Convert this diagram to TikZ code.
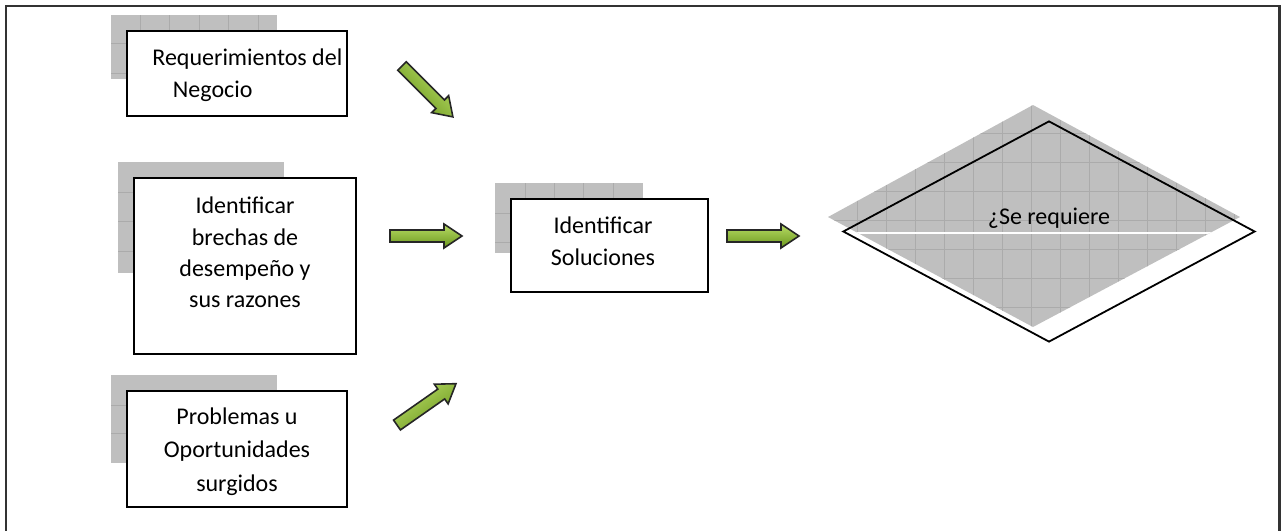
\documentclass[tikz,border=0pt]{standalone}
\usepackage{fontspec}
\setmainfont{Carlito}
\usetikzlibrary{shapes.geometric}
\definecolor{shadowgrey}{HTML}{BFBFBF}
\definecolor{gridgrey}{HTML}{ABABAB}
\definecolor{arrowlight}{HTML}{B8DC66}
\definecolor{arrowdark}{HTML}{6A961C}
\definecolor{framegrey}{HTML}{333333}

\begin{document}
\begin{tikzpicture}[x=0.5pt,y=-0.5pt,
  box/.style={draw=black, line width=0.8pt, fill=white, inner sep=0pt},
  lbl/.style={inner sep=0pt, font=\fontsize{12}{14}\selectfont},
  shadowfill/.style={fill=shadowgrey},
  gridline/.style={draw=gridgrey, line width=0.3pt},
  pics/blockarrow/.style={code={
    \draw[draw=black!85, line width=0.8pt, line join=miter,
          top color=arrowlight, bottom color=arrowdark, shading angle=#1]
      (0,-6) -- (54,-6) -- (54,-12) -- (72,0) -- (54,12) -- (54,6) -- (0,6) -- cycle;}}
]
\useasboundingbox (0,0) rectangle (1282,531);
\clip (0,0) rectangle (1282,531);

% outer frame (open at the bottom edge of the page)
\draw[framegrey, line width=1.2pt] (6,560) -- (6,6) -- (1279.5,6) -- (1279.5,560);

% ---------- textured shadows behind the boxes ----------
\begin{scope}
  \clip (111,15) rectangle (277,79);
  \fill[shadowfill] (111,15) rectangle (277,79);
  \foreach \x in {140,169.5,199,228.5,258} \draw[gridline] (\x,15) -- (\x,79);
  \foreach \y in {43.5,73} \draw[gridline] (111,\y) -- (277,\y);
\end{scope}
\begin{scope}
  \clip (118,162) rectangle (284,273);
  \fill[shadowfill] (118,162) rectangle (284,273);
  \foreach \y in {192,221.5,251} \draw[gridline] (118,\y) -- (284,\y);
\end{scope}
\begin{scope}
  \clip (111,375) rectangle (277,463);
  \fill[shadowfill] (111,375) rectangle (277,463);
  \foreach \y in {405,433.5} \draw[gridline] (111,\y) -- (277,\y);
\end{scope}
\begin{scope}
  \clip (495,183) rectangle (643,253);
  \fill[shadowfill] (495,183) rectangle (643,253);
  \foreach \x in {525,554,583,613} \draw[gridline] (\x,183) -- (\x,253);
  \foreach \y in {213,242} \draw[gridline] (495,\y) -- (643,\y);
\end{scope}
\begin{scope}
  \clip (828,217) -- (1033,105) -- (1240,217) -- (1033,327) -- cycle;
  \fill[shadowfill] (820,100) rectangle (1250,335);
  \foreach \x in {857,886,...,1240} \draw[gridline] (\x,100) -- (\x,335);
  \foreach \y in {104,133,162,191,220,249,278,307} \draw[gridline] (820,\y) -- (1250,\y);
  \draw[white, line width=1pt] (830,232.5) -- (1245,232.5);
\end{scope}

% ---------- boxes ----------
\node[box, minimum width=110pt, minimum height=42.5pt] (req) at (237,73.5) {};
\node[box, minimum width=111pt, minimum height=88pt] (gap) at (245,266) {};
\node[box, minimum width=110pt, minimum height=58pt] (prob) at (237,449) {};
\node[box, minimum width=98.5pt, minimum height=46.5pt] (sol) at (609.5,245.5) {};
\node[draw=black, line width=0.9pt, diamond, inner sep=0pt,
      minimum width=206pt, minimum height=110.5pt] (dec) at (1049,231.5) {};

% ---------- texts ----------
\node[lbl, anchor=base west] (req-a) at (152,65) {Requerimientos del};
\node[lbl, anchor=base west] (req-b) at (172.5,97.5) {Negocio};

\node[lbl, anchor=base] (gap-a) at (245,213.5) {Identificar};
\node[lbl, anchor=base] (gap-b) at (245,245) {brechas de};
\node[lbl, anchor=base] (gap-c) at (245,276.5) {desempeño y};
\node[lbl, anchor=base] (gap-d) at (245,307) {sus razones};

\node[lbl, anchor=base] (prob-a) at (237,424) {Problemas u};
\node[lbl, anchor=base] (prob-b) at (237,457.5) {Oportunidades};
\node[lbl, anchor=base] (prob-c) at (237,491) {surgidos};

\node[lbl, anchor=base] (sol-a) at (603,233) {Identificar};
\node[lbl, anchor=base] (sol-b) at (603,265) {Soluciones};

\node[lbl, anchor=base] (dec-a) at (1049,224) {¿Se requiere};

% ---------- green block arrows ----------
\coordinate (a1) at (402,66);
\coordinate (a2) at (390,236);
\coordinate (a3) at (727,236);
\coordinate (a4) at (397,425);
\pic[rotate=-45] at (a1) {blockarrow=-45};
\pic at (a2) {blockarrow=0};
\pic at (a3) {blockarrow=0};
\pic[rotate=35] at (a4) {blockarrow=35};
\end{tikzpicture}
\end{document}
